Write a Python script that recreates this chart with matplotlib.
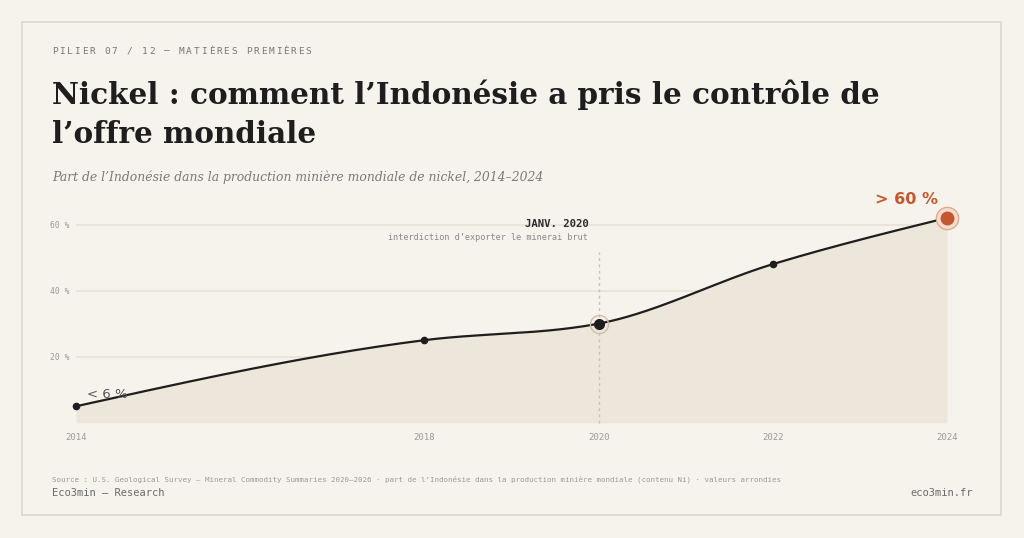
import numpy as np
import matplotlib
matplotlib.use("Agg")
import matplotlib.pyplot as plt
from matplotlib.patches import Rectangle

# data
years = [2014, 2018, 2020, 2022, 2024]
share = [5, 25, 30, 48, 62]
y_ticks = [20, 40, 60]
y_tick_labels = ["20 %", "40 %", "60 %"]
x_tick_labels = ["2014", "2018", "2020", "2022", "2024"]

BG = "#f6f3ec"
FILL = "#ede6da"
GRID = "#e8e2d6"
INK = "#1e1e1e"
GREY = "#8a8a8a"
ORANGE = "#c4572e"
MONO = "DejaVu Sans Mono"
SERIF = "DejaVu Serif"

W, H = 1024, 538


def fx(px):
    return px / W


def fy(py):
    return 1 - py / H


def monotone(x, y, n=60):
    # d3 style curveMonotoneX
    x = np.asarray(x, float)
    y = np.asarray(y, float)
    h = np.diff(x)
    d = np.diff(y) / h
    m = np.zeros_like(x)
    for i in range(1, len(x) - 1):
        s0, s1 = d[i - 1], d[i]
        p = (s0 * h[i] + s1 * h[i - 1]) / (h[i - 1] + h[i])
        m[i] = (np.sign(s0) + np.sign(s1)) * min(abs(s0), abs(s1), 0.5 * abs(p))
    m[0] = (3 * d[0] - m[1]) / 2
    m[-1] = (3 * d[-1] - m[-2]) / 2
    xs, ys = [], []
    for i in range(len(x) - 1):
        t = np.linspace(0, 1, n)
        h00 = 2 * t**3 - 3 * t**2 + 1
        h10 = t**3 - 2 * t**2 + t
        h01 = -2 * t**3 + 3 * t**2
        h11 = t**3 - t**2
        xs.append(x[i] + t * h[i])
        ys.append(h00 * y[i] + h10 * h[i] * m[i] + h01 * y[i + 1] + h11 * h[i] * m[i + 1])
    return np.concatenate(xs), np.concatenate(ys)


def spaced(fig, s, x, y, adv, **kw):
    # monospace text with letter spacing, placed char by char
    for i, ch in enumerate(s):
        fig.text(fx(x + i * adv), fy(y), ch, family=MONO, va="center", ha="left", **kw)


def fit(fig, t, width_px):
    r = fig.canvas.get_renderer()
    bb = t.get_window_extent(r)
    t.set_fontsize(t.get_fontsize() * width_px / bb.width)


fig = plt.figure(figsize=(W / 100, H / 100), dpi=100, facecolor=BG)

# card
card = Rectangle((fx(22), fy(515)), fx(1001) - fx(22), fy(22) - fy(515),
                 transform=fig.transFigure, facecolor=BG,
                 edgecolor="#dcd7cb", lw=1.2, zorder=-10)
fig.patches.append(card)

# header
spaced(fig, "PILIER 07 / 12 — MATIÈRES PREMIÈRES", 52, 51, 7.46, size=6.8, color="#777777")
t1 = fig.text(fx(52), fy(104), "Nickel : comment l\u2019Indonésie a pris le contrôle de",
              family=SERIF, weight="bold", size=21, color=INK, va="baseline")
fit(fig, t1, 828)
fig.text(fx(52), fy(143), "l\u2019offre mondiale", family=SERIF, weight="bold",
         size=t1.get_fontsize(), color=INK, va="baseline")
st = fig.text(fx(52), fy(181), "Part de l\u2019Indonésie dans la production minière mondiale de nickel, 2014\u20132024",
              family=SERIF, style="italic", size=10, color="#7a7a7a", va="baseline")
fit(fig, st, 489)

# chart area
y0_px, px_per = 422.8, 3.305
top_px = 205
ax = fig.add_axes([fx(76), fy(y0_px), fx(947) - fx(76), (y0_px - top_px) / H])
ax.set_facecolor("none")
ax.set_xlim(2014, 2024)
ax.set_ylim(0, (y0_px - top_px) / px_per)
for s in ax.spines.values():
    s.set_visible(False)

for v in y_ticks:
    ax.axhline(v, color=GRID, lw=1.2, zorder=1)

cx, cy = monotone(years, share)
ax.fill_between(cx, 0, cy, color=FILL, lw=0, zorder=2)
ax.plot(cx, cy, color=INK, lw=1.6, zorder=4, solid_capstyle="round")

# event line
ax.plot([2020, 2020], [0, (y0_px - 252) / px_per], color="#c9c1b2", lw=1,
        ls=(0, (2, 2.5)), zorder=3, clip_on=False)

# markers
ax.plot([years[0], years[1], years[3]], [share[0], share[1], share[3]], "o",
        color=INK, ms=4.5, zorder=5, clip_on=False)
ax.plot(years[2], share[2], "o", ms=13, mfc="none", mec="#cbbfa9", mew=1, zorder=5)
ax.plot(years[2], share[2], "o", ms=7, color=INK, zorder=6)
ax.plot(years[-1], share[-1], "o", ms=16, mfc="#f3ddd0", mec="#e2a88a", mew=1, zorder=5,
        clip_on=False)
ax.plot(years[-1], share[-1], "o", ms=9, color=ORANGE, zorder=6, clip_on=False)

ax.set_xticks(years, x_tick_labels)
ax.set_yticks(y_ticks, y_tick_labels)
ax.tick_params(length=0, labelcolor="#9a9a9a", labelsize=5.8)
ax.tick_params(axis="x", pad=7, labelsize=6.5)
ax.tick_params(axis="y", pad=5)
for lab in ax.get_xticklabels() + ax.get_yticklabels():
    lab.set_family(MONO)

# annotations
fig.text(fx(589), fy(224), "JANV. 2020", family=MONO, size=7.7, weight="bold",
         color="#2a2a2a", ha="right", va="center")
fig.text(fx(588), fy(237), "interdiction d\u2019exporter le minerai brut", family=MONO,
         size=6.1, color=GREY, ha="right", va="center")
fig.text(fx(87), fy(395), "< 6 %", size=9.5, color="#555555", va="center")
fig.text(fx(938), fy(200), "> 60 %", size=11.5, weight="bold", color=ORANGE,
         ha="right", va="center")

# footer
src = fig.text(fx(52), fy(479), "Source : U.S. Geological Survey \u2014 Mineral Commodity Summaries 2020\u20132026 \u00b7 "
               "part de l\u2019Indonésie dans la production minière mondiale (contenu Ni) \u00b7 valeurs arrondies",
               family=MONO, size=5.5, color="#9a9a9a", va="center")
fit(fig, src, 732)
fig.text(fx(52), fy(493), "Eco3min \u2014 Research", family=MONO, size=7.5,
         color="#6a6a6a", va="center")
fig.text(fx(973), fy(493), "eco3min.fr", family=MONO, size=7.5, color="#6a6a6a",
         ha="right", va="center")

fig.savefig("out.png", dpi=100, facecolor=BG)
